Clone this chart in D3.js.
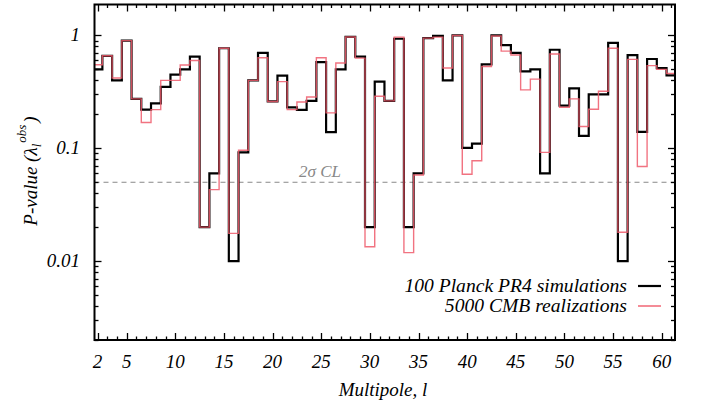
<!DOCTYPE html>
<html><head><meta charset="utf-8">
<script src="https://cdn.jsdelivr.net/npm/d3@7"></script>
<style>body{margin:0;background:#fff}svg{display:block}</style>
</head><body><svg id="c" width="701" height="407" font-family="Times New Roman" font-style="italic"></svg>
<script>
const multipoles = d3.range(2, 62);
const pr4Sims = [0.50,0.66,0.40,0.90,0.274,0.22,0.25,0.35,0.45,0.50,0.65,0.020,0.060,0.77,0.010,0.092,0.40,0.70,0.26,0.44,0.23,0.219,0.263,0.58,0.139,0.50,0.97,0.65,0.020,0.39,0.263,0.935,0.020,0.060,0.947,0.99,0.40,1.0,0.101,0.110,0.555,1.0,0.82,0.70,0.48,0.50,0.060,0.747,0.239,0.34,0.129,0.30,0.30,0.86,0.010,0.67,0.140,0.618,0.514,0.443];
const cmbReal = [0.55,0.66,0.42,0.90,0.274,0.169,0.22,0.40,0.40,0.547,0.60,0.020,0.043,0.77,0.0176,0.096,0.40,0.635,0.26,0.39,0.22,0.257,0.285,0.635,0.206,0.57,0.97,0.63,0.0134,0.289,0.263,0.966,0.0119,0.058,0.947,0.966,0.514,1.0,0.0588,0.0776,0.53,0.99,0.726,0.67,0.329,0.41,0.092,0.684,0.231,0.274,0.156,0.222,0.32,0.77,0.018,0.614,0.069,0.54,0.50,0.46];
const xTickValues = [2,5,10,15,20,25,30,35,40,45,50,55,60];
const yTickValues = [1,0.1,0.01];
const yTickLabels = ["1","0.1","0.01"];
const clLevel = 0.05;
const seriesNames = ["100 Planck PR4 simulations","5000 CMB realizations"];

const svg = d3.select("#c");
const L = 94.5, R = 675, T = 4.5, B = 340;
const x = d3.scaleLinear().domain([1.69, 61.37]).range([L, R]);
const y = d3.scaleLog().domain([0.002, 1.88]).range([B, T]);
const FS = 19;

svg.append("defs").append("clipPath").attr("id","clip")
  .append("rect").attr("x",L).attr("y",T).attr("width",R-L).attr("height",B-T);

svg.append("line").attr("x1",L).attr("x2",R).attr("y1",y(clLevel)).attr("y2",y(clLevel))
  .attr("stroke","#888").attr("stroke-width",1).attr("stroke-dasharray","5,4");
svg.append("text").attr("x",320).attr("y",y(clLevel)-5).attr("text-anchor","middle")
  .attr("font-size",17).attr("fill","#888").text("2σ CL");

function stepPts(vals){
  const pts=[];
  multipoles.forEach((l,i)=>{pts.push([l-0.5,vals[i]]);pts.push([l+0.5,vals[i]]);});
  return pts;
}
const line = d3.line().x(d=>x(d[0])).y(d=>y(d[1]));
const g = svg.append("g").attr("clip-path","url(#clip)");
g.append("path").attr("d",line(stepPts(pr4Sims))).attr("fill","none").attr("stroke","#000").attr("stroke-width",2.2).attr("stroke-linejoin","miter");
g.append("path").attr("d",line(stepPts(cmbReal))).attr("fill","none").attr("stroke","#ef5b6b").attr("stroke-opacity",0.85).attr("stroke-width",1.4).attr("stroke-linejoin","miter");

const ax = svg.append("g").attr("stroke","#000");
d3.range(2, 62).forEach(l=>{
  const major = xTickValues.includes(l);
  const len = major ? 7 : 3.5;
  const xx = Math.round(x(l))+0.5;
  ax.append("line").attr("x1",xx).attr("x2",xx).attr("y1",B).attr("y2",B-len).attr("stroke-width",1.3);
  ax.append("line").attr("x1",xx).attr("x2",xx).attr("y1",T).attr("y2",T+len).attr("stroke-width",1.3);
});
const yMinor=[];
[0.001,0.01,0.1,1].forEach(d=>{for(let k=1;k<10;k++){const v=d*k; if(v>=0.002&&v<=1.88) yMinor.push(v);}});
yMinor.forEach(v=>{
  const major = Math.abs(Math.log10(v)-Math.round(Math.log10(v)))<1e-9;
  const len = major?7:4;
  const yy = Math.round(y(v))+0.5;
  ax.append("line").attr("x1",L).attr("x2",L+len).attr("y1",yy).attr("y2",yy).attr("stroke-width",1.3);
  ax.append("line").attr("x1",R).attr("x2",R-len).attr("y1",yy).attr("y2",yy).attr("stroke-width",1.3);
});
svg.append("rect").attr("x",L).attr("y",T).attr("width",R-L).attr("height",B-T)
  .attr("fill","none").attr("stroke","#000").attr("stroke-width",2);

xTickValues.forEach(v=>{
  svg.append("text").attr("x",x(v)).attr("y",368).attr("text-anchor","middle").attr("font-size",FS).text(v);
});
yTickValues.forEach((v,i)=>{
  svg.append("text").attr("x",80).attr("y",y(v)+6).attr("text-anchor","end").attr("font-size",FS).text(yTickLabels[i]);
});

svg.append("text").attr("x",383).attr("y",396).attr("text-anchor","middle").attr("font-size",FS).text("Multipole, l");
const yt = svg.append("text").attr("transform","translate(37,171) rotate(-90)").attr("text-anchor","middle").attr("font-size",FS);
yt.append("tspan").text("P-value (λ");
yt.append("tspan").attr("font-size",13).attr("dy",4).text("l");
yt.append("tspan").attr("font-size",13).attr("dy",-15).attr("dx",1).text("obs");
yt.append("tspan").attr("dy",11).attr("dx",2).text(")");

const lg = [{c:"#000",w:2.2,yy:286},{c:"#ef5b6b",w:1.4,yy:306}];
lg.forEach((d,i)=>{
  svg.append("text").attr("x",627).attr("y",d.yy+6).attr("text-anchor","end").attr("font-size",19.6).text(seriesNames[i]);
  svg.append("line").attr("x1",638).attr("x2",661).attr("y1",d.yy).attr("y2",d.yy).attr("stroke",d.c).attr("stroke-width",d.w);
});
</script></body></html>
